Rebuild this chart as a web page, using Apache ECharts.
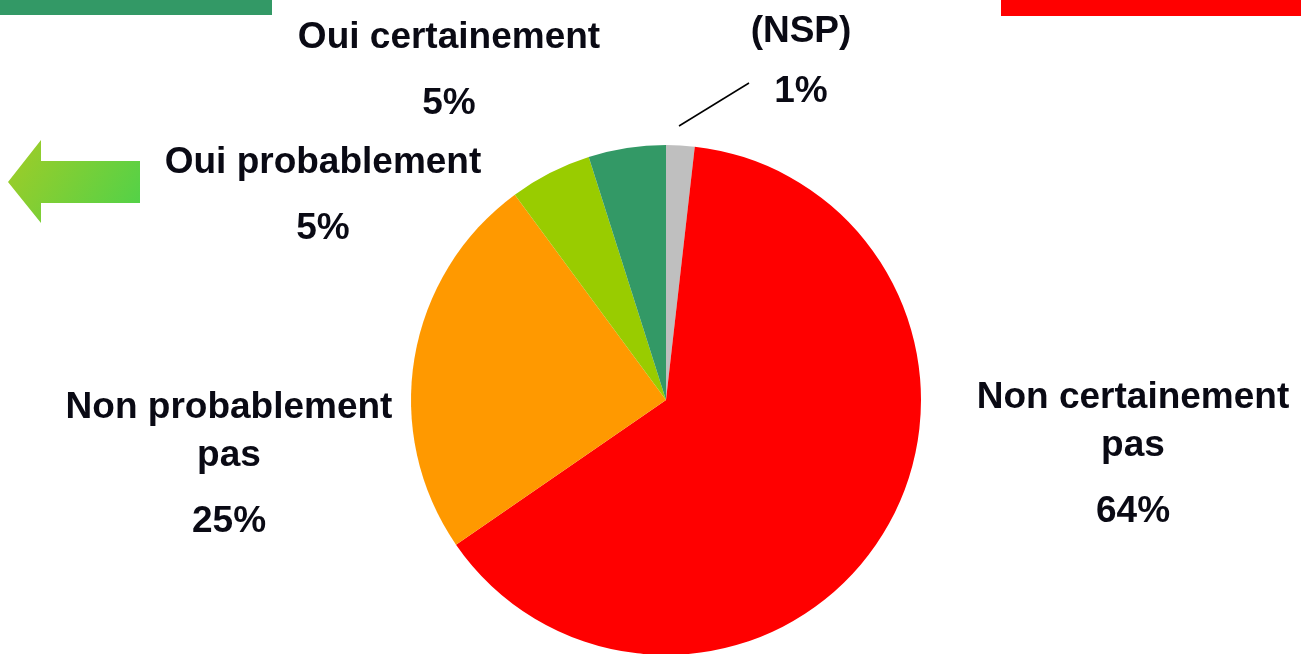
<!DOCTYPE html>
<html>
<head>
<meta charset="utf-8">
<script src="https://cdn.jsdelivr.net/npm/echarts@6/dist/echarts.min.js"></script>
<style>html,body{margin:0;padding:0;background:#fff}#c{width:1301px;height:654px}</style>
</head>
<body>
<div id="c"></div>
<script>
// Data
var categories = ['(NSP)', 'Non certainement\npas', 'Non probablement\npas', 'Oui probablement', 'Oui certainement'];
var values = [1.8, 63.6, 24.5, 5.2, 4.9];
var pctLabels = ['1%', '64%', '25%', '5%', '5%'];
var colors = ['#BFBFBF', '#FF0000', '#FF9900', '#99CC00', '#339966'];

// Layout (label block top-center positions)
var labelPos = [[801, 8], [1133, 374], [229, 384], [323, 139], [449, 14]];

var chart = echarts.init(document.getElementById('c'), null, {renderer: 'canvas'});
var font = "'Liberation Sans', Arial, sans-serif";

var data = categories.map(function (n, i) {
  var d = {name: n, value: values[i], itemStyle: {color: colors[i]}};
  if (i === 0) d.labelLine = {show: true, lineStyle: {color: '#000', width: 1.5}};
  return d;
});

chart.setOption({
  animation: false,
  graphic: [
    {type: 'rect', shape: {x: 0, y: 0, width: 272, height: 15}, style: {fill: '#339966'}},
    {type: 'rect', shape: {x: 1001, y: 0, width: 300, height: 16}, style: {fill: '#FF0000'}},
    {type: 'polygon', shape: {points: [[8, 182], [41, 140], [41, 161], [140, 161], [140, 203], [41, 203], [41, 223]]},
      style: {fill: new echarts.graphic.LinearGradient(0, 0, 1, 1, [{offset: 0, color: '#A2CC26'}, {offset: 1, color: '#4ED24A'}])}}
  ],
  series: [{
    type: 'pie',
    center: [666, 400],
    radius: 255,
    startAngle: 90,
    clockwise: true,
    data: data,
    emphasis: {disabled: true},
    itemStyle: {borderWidth: 0},
    labelLine: {show: false},
    label: {
      show: true,
      position: 'outside',
      formatter: function (p) {
        var lines = p.name.split('\n').map(function (s) { return '{n|' + s + '}'; });
        return lines.join('\n') + '\n' + (p.dataIndex === 0 ? '{q|' : '{p|') + pctLabels[p.dataIndex] + '}';
      },
      rich: {
        n: {fontSize: 37, fontWeight: 'bold', fontFamily: font, color: '#0A0A14', lineHeight: 48, align: 'center'},
        p: {fontSize: 37, fontWeight: 'bold', fontFamily: font, color: '#0A0A14', lineHeight: 84, align: 'center'},
        q: {fontSize: 37, fontWeight: 'bold', fontFamily: font, color: '#0A0A14', lineHeight: 72, align: 'center'}
      }
    },
    labelLayout: function (params) {
      var i = params.dataIndex;
      var r = {x: labelPos[i][0], y: labelPos[i][1], align: 'center', verticalAlign: 'top'};
      if (i === 0) r.labelLinePoints = [[679, 126], [749, 83], [749, 83]];
      return r;
    }
  }]
});
</script>
</body>
</html>
